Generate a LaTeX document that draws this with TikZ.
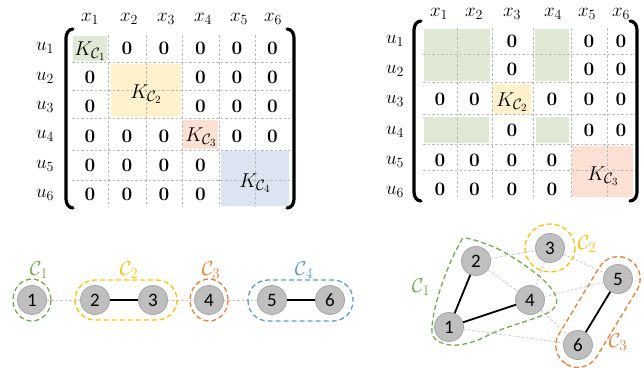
\documentclass[tikz,border=0pt]{standalone}
\usepackage{fix-cm}
\usepackage{fontspec}
\newfontfamily\nodefont{Carlito}
\usetikzlibrary{calc}
\DeclareMathSizes{20}{20}{15}{11}
\DeclareMathSizes{19}{19}{14}{10}
\definecolor{fgreen}{HTML}{DFE9D3}
\definecolor{fyellow}{HTML}{FFF1CC}
\definecolor{forange}{HTML}{FCE0D4}
\definecolor{fblue}{HTML}{DCE4F2}
\definecolor{cgreen}{HTML}{70AD47}
\definecolor{cyellow}{HTML}{FFC000}
\definecolor{corange}{HTML}{ED7D31}
\definecolor{cblue}{HTML}{5B9BD5}
\definecolor{vtxgray}{HTML}{BFBFBF}
\definecolor{vtxrim}{HTML}{A6A6A6}
\tikzset{
  zero/.style={font=\fontsize{19}{19}\selectfont\bfseries, inner sep=0pt},
  kl/.style={font=\fontsize{20}{20}\selectfont, inner sep=0pt},
  lab/.style={font=\fontsize{19}{19}\selectfont, inner sep=0pt},
  gridl/.style={gray!55, dash pattern=on 2.5pt off 2pt, line width=0.6pt},
  brk/.style={line width=3.2pt, line cap=round},
  vtx/.style={circle, fill=vtxgray, draw=vtxrim, line width=0.8pt, minimum size=29pt, inner sep=0pt, font=\nodefont\fontsize{19}{19}\selectfont},
  strong/.style={line width=1.8pt},
  weak/.style={gray!45, dash pattern=on 2.5pt off 2pt, line width=0.8pt},
  hull/.style={dash pattern=on 5pt off 3pt, line width=1.3pt},
  clab/.style={font=\fontsize{20}{20}\selectfont, inner sep=0pt}
}
\begin{document}
\begin{tikzpicture}[x=1pt,y=-1pt]
\useasboundingbox (0,0) rectangle (644,367);

% ===== left matrix =====
\fill[fgreen] (73,36) rectangle (107,61);
\fill[fyellow] (111,64) rectangle (181,117);
\fill[forange] (183,120) rectangle (218,149);
\fill[fblue] (221,151) rectangle (289,206);
\foreach \x in {108,146,182,219,255} \draw[gridl] (\x,35) -- (\x,207);
\foreach \y in {62,90,118,150,180} \draw[gridl] (72,\y) -- (290,\y);
\draw[brk] (73,29) to[out=180,in=90] (66,38) -- (66,199) to[out=-90,in=180] (73,208);
\draw[brk] (287,29) to[out=0,in=90] (294,38) -- (294,199) to[out=-90,in=0] (287,208);
\foreach \x/\i in {90/1,129/2,166/3,203/4,239/5,273/6}
  \node[lab] (lx\i) at (\x,19) {$x_{\i}$};
\foreach \y/\i in {48/1,78/2,107/3,136/4,166/5,195/6}
  \node[lab] (lu\i) at (45,\y) {$u_{\i}$};
\node[kl] (lk1) at (90,51) {$K_{\mathcal{C}_1}$};
\node[kl] (lk2) at (146,94) {$K_{\mathcal{C}_2}$};
\node[kl] (lk3) at (201,137) {$K_{\mathcal{C}_3}$};
\node[kl] (lk4) at (255,183) {$K_{\mathcal{C}_4}$};
\foreach \x/\y [count=\k] in {127/48,164/48,200.5/48,237/48,272.5/48,
  90/77,200.5/77,237/77,272.5/77,
  90/106,200.5/106,237/106,272.5/106,
  90/136,127/136,164/136,237/136,272.5/136,
  90/165,127/165,164/165,200.5/165,
  90/194,127/194,164/194,200.5/194}
  \node[zero] (lz\k) at (\x,\y) {0};

% ===== right matrix =====
\fill[fgreen] (424,29) rectangle (490,81);
\fill[fgreen] (535,29) rectangle (569,81);
\fill[fgreen] (424,117) rectangle (489,143);
\fill[fgreen] (536,117) rectangle (569,143);
\fill[fyellow] (493,84) rectangle (531,114);
\fill[forange] (572,146) rectangle (633,197);
\foreach \x in {457,492,533,571,607} \draw[gridl] (\x,28) -- (\x,198);
\foreach \y in {54,82,114,144,170} \draw[gridl] (423,\y) -- (635,\y);
\draw[brk] (421,21) to[out=180,in=90] (414,30) -- (414,192) to[out=-90,in=180] (421,201);
\draw[brk] (630,21) to[out=0,in=90] (637,30) -- (637,192) to[out=-90,in=0] (630,201);
\foreach \x/\i in {439/1,474/2,512/3,553/4,587/5,621/6}
  \node[lab] (rx\i) at (\x,14) {$x_{\i}$};
\foreach \y/\i in {41/1,71/2,101/3,132/4,162/5,192/6}
  \node[lab] (ru\i) at (395,\y) {$u_{\i}$};
\node[kl] (rk2) at (512,102) {$K_{\mathcal{C}_2}$};
\node[kl] (rk3) at (603,176) {$K_{\mathcal{C}_3}$};
\foreach \x/\y [count=\k] in {512/41,589/41,621/41,
  512/69,589/69,621/69,
  440/99,474.5/99,552/99,589/99,621/99,
  512/130,589/130,621/130,
  440/160,474.5/160,512/160,552/160,
  440/189,474.5/189,512/189,552/189}
  \node[zero] (rz\k) at (\x,\y) {0};

% ===== left graph =====
\node[vtx] (a1) at (32,300) {1};
\node[vtx] (a2) at (95,300) {2};
\node[vtx] (a3) at (153,300) {3};
\node[vtx] (a4) at (209,300) {4};
\node[vtx] (a5) at (272,300) {5};
\node[vtx] (a6) at (330,300) {6};
\draw[weak] (a1) -- (a2);
\draw[weak] (a3) -- (a4);
\draw[weak] (a4) -- (a5);
\draw[strong] (a2) -- (a3);
\draw[strong] (a5) -- (a6);
\draw[hull, cgreen] (a1) ellipse [x radius=19, y radius=21];
\draw[hull, cyellow, rounded corners=20pt] (75,280) rectangle (177,320);
\draw[hull, corange] (a4) ellipse [x radius=19, y radius=21];
\draw[hull, cblue, rounded corners=20pt] (248,280) rectangle (353,321);
\node[clab, text=cgreen] (ac1) at (39,270) {$\mathcal{C}_1$};
\node[clab, text=cyellow] (ac2) at (129,270) {$\mathcal{C}_2$};
\node[clab, text=corange] (ac3) at (211,270) {$\mathcal{C}_3$};
\node[clab, text=cblue] (ac4) at (304,270) {$\mathcal{C}_4$};

% ===== right graph =====
\node[vtx] (b1) at (449,327) {1};
\node[vtx] (b2) at (476,261) {2};
\node[vtx] (b3) at (550,248) {3};
\node[vtx] (b4) at (530,300) {4};
\node[vtx] (b5) at (618,279) {5};
\node[vtx] (b6) at (578,345) {6};
\draw[weak] (b2) -- (b3);
\draw[weak] (b2) -- (b4);
\draw[weak] (b3) -- (b4);
\draw[weak] (b3) -- (b5);
\draw[weak] (b4) -- (b5);
\draw[weak] (b4) -- (b6);
\draw[weak] (b1) -- (b6);
\draw[strong] (b1) -- (b2);
\draw[strong] (b1) -- (b4);
\draw[strong] (b5) -- (b6);
\draw[hull, cgreen] plot[smooth cycle, tension=0.6] coordinates {
  (466.7,238.3) (496.7,248.3) (526.7,266.7) (546.7,283.3) (556.7,300)
  (546.7,313.3) (500,330) (473.3,341.7) (450,345) (433.3,336.7)
  (433.3,316.7) (440,290) (450,263.3) (460,243.3)};
\draw[hull, cyellow] (b3) ellipse [x radius=25, y radius=24];
\begin{scope}[shift={(598,312)}, rotate=58.8]
  \draw[hull, corange, rounded corners=22pt] (-61,-22) rectangle (61,22);
\end{scope}
\node[clab, text=cgreen] (bc1) at (421,287) {$\mathcal{C}_1$};
\node[clab, text=cyellow] (bc2) at (587,244) {$\mathcal{C}_2$};
\node[clab, text=corange] (bc3) at (618,342) {$\mathcal{C}_3$};
\end{tikzpicture}
\end{document}
